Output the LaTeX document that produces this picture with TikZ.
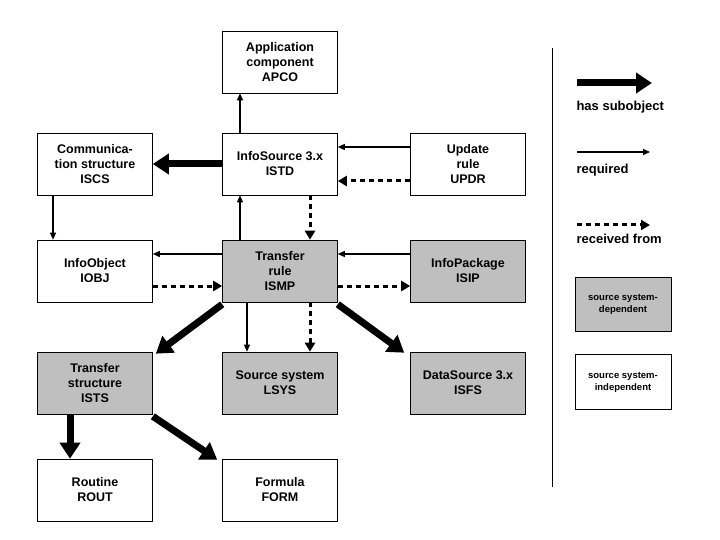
\documentclass[tikz,border=0pt]{standalone}
\usepackage{fontspec}
\setmainfont{Liberation Sans}
\usetikzlibrary{arrows.meta}
\begin{document}
\begin{tikzpicture}[x=1pt,y=-1pt,
  box/.style={draw,line width=0.6pt,minimum width=115pt,minimum height=62pt,align=center,font=\fontsize{12.5}{15}\selectfont\bfseries,inner sep=1pt},
  grey/.style={box,fill=black!25},
  req/.style={line width=1.3pt,-{Triangle[length=7pt,width=6pt]}},
  rec/.style={line width=3pt,dash pattern=on 5pt off 4pt,-{Triangle[length=9pt,width=10pt]}},
  sub/.style={line width=7pt,-{Triangle[length=16pt,width=20pt]}},
  lab/.style={font=\fontsize{13}{15}\selectfont\bfseries,anchor=west}]
\useasboundingbox (0,0) rectangle (720,540);
\node[box] (apco) at (280,62) {Application\\component\\APCO};
\node[box] (iscs) at (95,164) {Communica-\\tion structure\\ISCS};
\node[box] (istd) at (280,164) {InfoSource 3.x\\ISTD};
\node[box] (updr) at (468,164) {Update\\rule\\UPDR};
\node[box] (iobj) at (95,271) {InfoObject\\IOBJ};
\node[grey] (ismp) at (280,271) {Transfer\\rule\\ISMP};
\node[grey] (isip) at (468,271) {InfoPackage\\ISIP};
\node[grey] (ists) at (95,383) {Transfer\\structure\\ISTS};
\node[grey] (lsys) at (280,383) {Source system\\LSYS};
\node[grey] (isfs) at (468,383) {DataSource 3.x\\ISFS};
\node[box] (rout) at (95,490) {Routine\\ROUT};
\node[box] (form) at (280,490) {Formula\\FORM};
% connectors
\draw[req] ([xshift=-40pt]istd.north) -- ([xshift=-40pt]apco.south);
\draw[req] ([yshift=17pt]updr.west) -- ([yshift=17pt]istd.east);
\draw[rec] ([yshift=-17pt]updr.west) -- ([yshift=-17pt]istd.east);
\draw[sub] (istd.west) -- (iscs.east);
\draw[req] ([xshift=-42pt]iscs.south) -- ([xshift=-42pt]iobj.north);
\draw[req] ([xshift=-40pt]ismp.north) -- ([xshift=-40pt]istd.south);
\draw[rec] ([xshift=30pt]istd.south) -- ([xshift=30pt]ismp.north);
\draw[req] ([yshift=17pt]ismp.west) -- ([yshift=17pt]iobj.east);
\draw[rec] ([yshift=-15pt]iobj.east) -- ([yshift=-15pt]ismp.west);
\draw[req] ([yshift=17pt]isip.west) -- ([yshift=17pt]ismp.east);
\draw[rec] ([yshift=-15pt]ismp.east) -- ([yshift=-15pt]isip.west);
\draw[sub] ([yshift=-2pt]ismp.south west) -- ([xshift=3pt,yshift=-2pt]ists.north east);
\draw[req] ([xshift=-33pt]ismp.south) -- ([xshift=-33pt]lsys.north);
\draw[rec] ([xshift=30pt]ismp.south) -- ([xshift=30pt]lsys.north);
\draw[sub] ([yshift=-2pt]ismp.south east) -- ([xshift=-6pt,yshift=-1pt]isfs.north west);
\draw[sub] ([xshift=-25pt]ists.south) -- ([xshift=-25pt]rout.north);
\draw[sub] ([yshift=-2pt]ists.south east) -- ([xshift=-5pt,yshift=-1pt]form.north west);
% legend
\coordinate (lt) at (552,48); \coordinate (lb) at (552,487);
\draw[line width=0.8pt] (lt) -- (lb);
\coordinate (a1) at (577,83); \coordinate (b1) at (652,83);
\draw[sub] (a1) -- (b1);
\node[lab] (t1) at (573,107) {has subobject};
\coordinate (a2) at (577,152); \coordinate (b2) at (650,152);
\draw[req] (a2) -- (b2);
\node[lab] (t2) at (573,170) {required};
\coordinate (a3) at (577,225); \coordinate (b3) at (650,225);
\draw[rec] (a3) -- (b3);
\node[lab] (t3) at (573,239) {received from};
\node[draw,line width=0.6pt,fill=black!25,minimum width=96pt,minimum height=54pt,align=center,font=\fontsize{9.5}{12}\selectfont\bfseries] (lg) at (623,304) {source system-\\dependent};
\node[draw,line width=0.6pt,minimum width=96pt,minimum height=55pt,align=center,font=\fontsize{9.5}{12}\selectfont\bfseries] (lw) at (623,382) {source system-\\independent};
\end{tikzpicture}
\end{document}
